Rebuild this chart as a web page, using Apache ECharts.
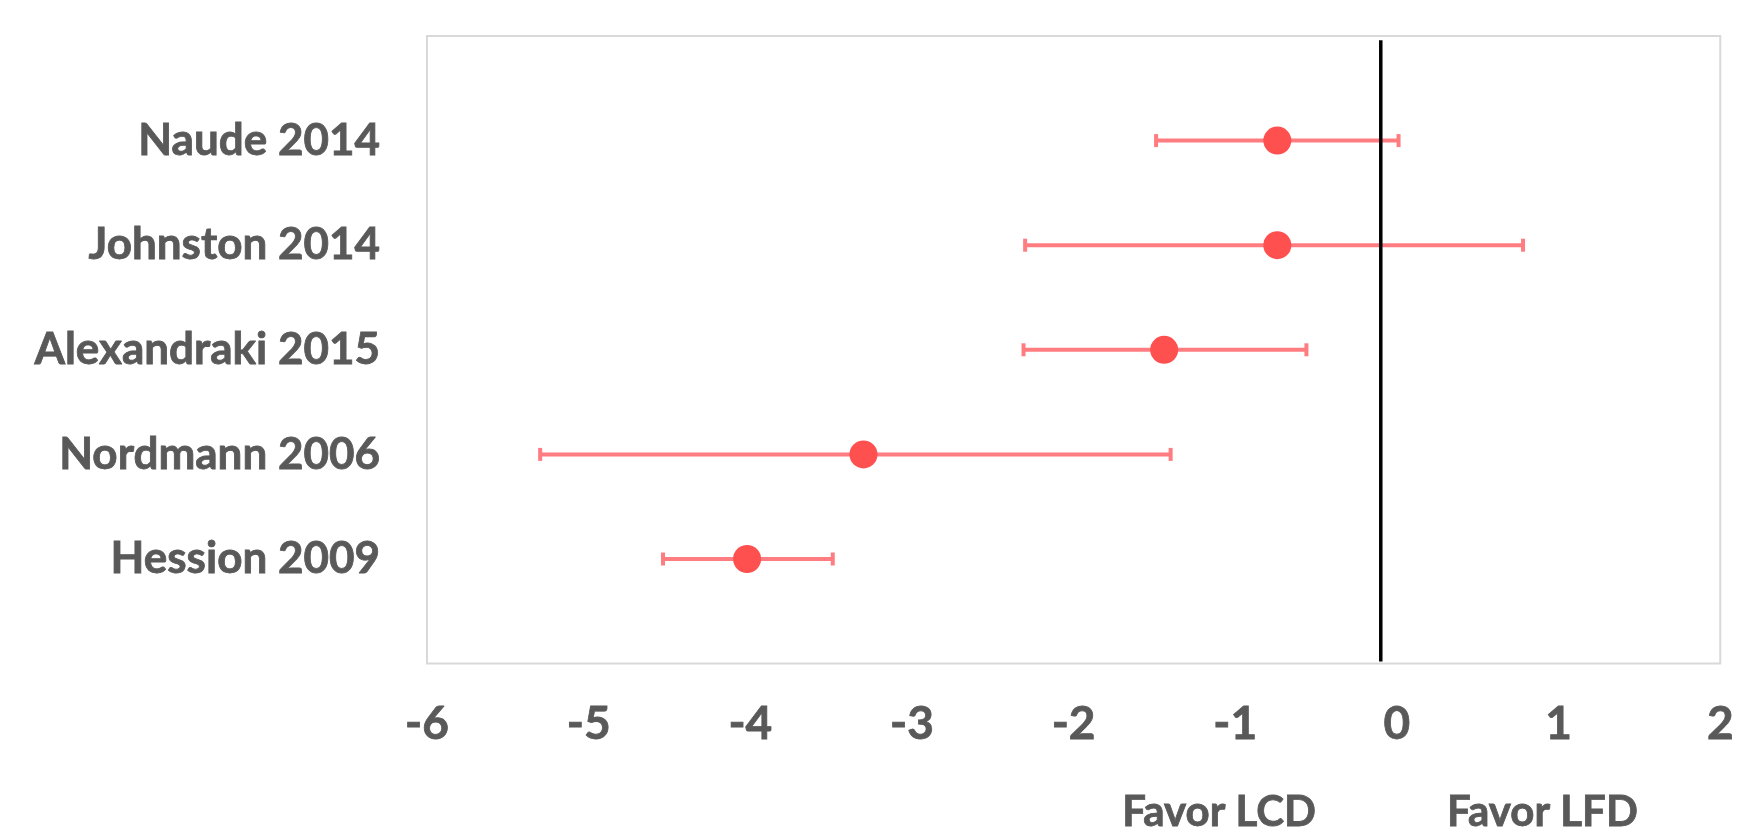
<!DOCTYPE html>
<html>
<head>
<meta charset="utf-8">
<script src="https://cdn.jsdelivr.net/npm/echarts@6/dist/echarts.min.js"></script>
<style>
  html, body { margin: 0; padding: 0; background: #ffffff; }
  #chart { width: 1737px; height: 834px; }
</style>
</head>
<body>
<div id="chart"></div>
<script>
// Forest plot: mean difference with 95% CI per study
const studies = ['Naude 2014', 'Johnston 2014', 'Alexandraki 2015', 'Nordmann 2006', 'Hession 2009'];
const rowPos = [5, 4, 3, 2, 1];
const effects = [-0.74, -0.74, -1.44, -3.30, -4.02];
const ciLow = [-1.49, -2.30, -2.31, -5.30, -4.54];
const ciHigh = [0.01, 0.78, -0.56, -1.40, -3.49];
const xTicks = [-6, -5, -4, -3, -2, -1, 0, 1, 2];
const refValue = -0.1;
const sideLabels = ['Favor LCD', 'Favor LFD'];
const sideLabelPos = [-1.1, 0.9];

const FONT = 'Lato, "Open Sans", sans-serif';
const TEXT_COLOR = '#595959';
const POINT_COLOR = '#FF5050';
const BAR_COLOR = '#FF7C80';

// shared bold label look
function labelStyle(size) {
  return {
    color: TEXT_COLOR, fontFamily: FONT, fontWeight: 'bold', fontSize: size,
    textBorderColor: TEXT_COLOR, textBorderWidth: 0.8
  };
}

const pointData = effects.map((v, i) => [v, rowPos[i]]);
const barData = ciLow.map((lo, i) => [lo, ciHigh[i], rowPos[i]]);

const chart = echarts.init(document.getElementById('chart'), null, { renderer: 'canvas' });

chart.setOption({
  animation: false,
  backgroundColor: '#ffffff',
  grid: {
    left: 427, right: 6, top: 36, bottom: 164,
    show: true, borderColor: '#D9D9D9', borderWidth: 2, backgroundColor: 'transparent'
  },
  xAxis: [
    {
      type: 'value',
      min: xTicks[0], max: xTicks[xTicks.length - 1], interval: 1,
      axisLine: { show: false }, axisTick: { show: false }, splitLine: { show: false },
      axisLabel: Object.assign(labelStyle(46), {
        margin: 38,
        customValues: xTicks,
        formatter: v => String(v)
      })
    },
    {
      type: 'value', position: 'bottom', offset: 88,
      min: xTicks[0], max: xTicks[xTicks.length - 1],
      axisLine: { show: false }, axisTick: { show: false }, splitLine: { show: false },
      axisLabel: Object.assign(labelStyle(42), {
        margin: 40,
        customValues: sideLabelPos,
        formatter: v => {
          const i = sideLabelPos.findIndex(p => Math.abs(p - v) < 1e-9);
          return i >= 0 ? sideLabels[i] : '';
        }
      })
    }
  ],
  yAxis: {
    type: 'value', min: 0, max: 6, interval: 1,
    axisLine: { show: false }, axisTick: { show: false }, splitLine: { show: false },
    axisLabel: Object.assign(labelStyle(44), {
      margin: 47,
      customValues: rowPos,
      formatter: v => {
        const i = rowPos.indexOf(v);
        return i >= 0 ? studies[i] : '';
      }
    })
  },
  series: [
    {
      type: 'custom',
      name: 'CI',
      z: 2,
      data: barData,
      renderItem: (params, api) => {
        const y = api.value(2);
        const p0 = api.coord([api.value(0), y]);
        const p1 = api.coord([api.value(1), y]);
        const capH = 13, capW = 4;
        const style = { fill: BAR_COLOR };
        return {
          type: 'group',
          children: [
            { type: 'rect', shape: { x: p0[0], y: p0[1] - 2, width: p1[0] - p0[0], height: 4 }, style },
            { type: 'rect', shape: { x: p0[0] - capW / 2, y: p0[1] - capH / 2, width: capW, height: capH }, style },
            { type: 'rect', shape: { x: p1[0] - capW / 2, y: p1[1] - capH / 2, width: capW, height: capH }, style }
          ]
        };
      }
    },
    {
      type: 'line',
      name: 'No effect',
      z: 3,
      data: [[refValue, 0.02], [refValue, 5.96]],
      symbol: 'none',
      lineStyle: { color: '#000000', width: 3.5 },
      silent: true
    },
    {
      type: 'scatter',
      name: 'Mean difference',
      z: 4,
      data: pointData,
      symbol: 'circle',
      symbolSize: 28,
      itemStyle: { color: POINT_COLOR, opacity: 1 }
    }
  ]
});
</script>
</body>
</html>
